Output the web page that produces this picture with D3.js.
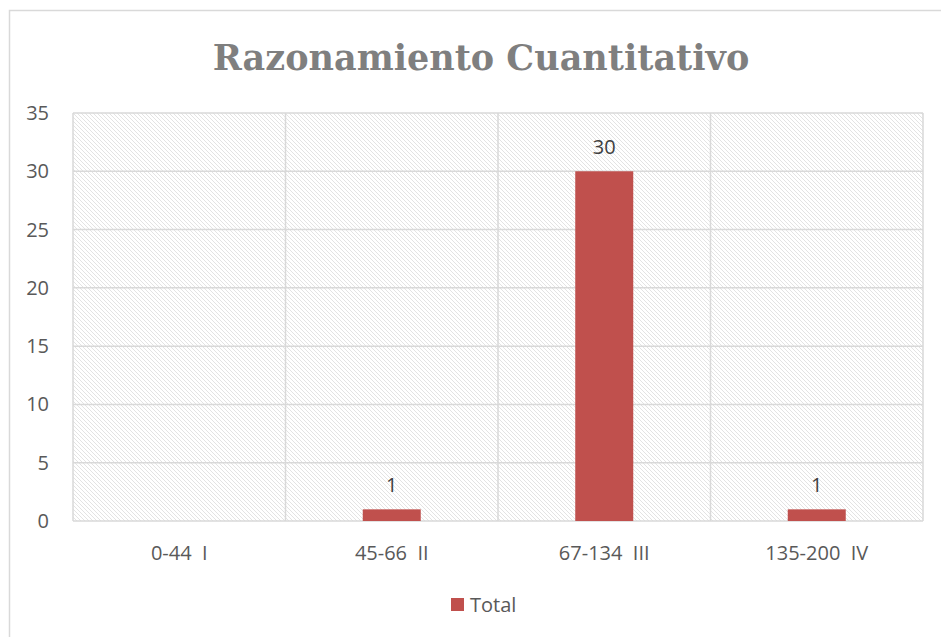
<!DOCTYPE html>
<html>
<head>
<meta charset="utf-8">
<script src="https://cdn.jsdelivr.net/npm/d3@7"></script>
<style>
  body { margin: 0; background: #fff; }
  svg text { white-space: pre; }
</style>
</head>
<body>
<svg width="941" height="637"></svg>
<script>
// chart data
const categories = ["0-44  I", "45-66  II", "67-134  III", "135-200  IV"]
const totals = [0, 1, 30, 1]
const yTicks = [0, 5, 10, 15, 20, 25, 30, 35]
const seriesName = "Total"
const title = "Razonamiento Cuantitativo"

const svg = d3.select('svg'),
    width = 941,
    height = 637

const margin = { left: 73, right: 18, top: 113, bottom: 116 }
const plotW = width - margin.left - margin.right,
    plotH = height - margin.top - margin.bottom

const barColor = "#c0504d",
    gridColor = "#d9d9d9",
    textColor = "#595959",
    font = "'Open Sans', sans-serif"

// outer chart border
svg.append("rect")
    .attr("x", 9.5).attr("y", 10.5)
    .attr("width", 960).attr("height", 660)
    .attr("fill", "#fff")
    .attr("stroke", "#d9d9d9")
    .attr("stroke-width", 1.5)

// hatch pattern for plot background
const defs = svg.append("defs")
const pat = defs.append("pattern")
    .attr("id", "hatch")
    .attr("patternUnits", "userSpaceOnUse")
    .attr("width", 4).attr("height", 4)
pat.append("path")
    .attr("d", "M-1,-1 L5,5 M-1,3 L1,5 M3,-1 L5,1")
    .attr("stroke", "#dcdcdc")
    .attr("stroke-width", 0.8)

const x = d3.scaleBand()
    .domain(categories)
    .range([0, plotW])
    .paddingInner(0)
const y = d3.scaleLinear()
    .domain([0, 35])
    .range([plotH, 0])

const g = svg.append("g")
    .attr("transform", `translate(${margin.left},${margin.top})`)

g.append("rect")
    .attr("width", plotW).attr("height", plotH)
    .attr("fill", "url(#hatch)")

// horizontal gridlines
g.append("g").selectAll("line")
    .data(yTicks)
    .enter().append("line")
    .attr("x1", 0).attr("x2", plotW)
    .attr("y1", d => y(d)).attr("y2", d => y(d))
    .attr("stroke", gridColor)
    .attr("stroke-width", 1.5)

// vertical gridlines at category boundaries
const bounds = categories.map(c => x(c)).concat([plotW])
g.append("g").selectAll("line")
    .data(bounds)
    .enter().append("line")
    .attr("x1", d => d).attr("x2", d => d)
    .attr("y1", 0).attr("y2", plotH)
    .attr("stroke", gridColor)
    .attr("stroke-width", 1.5)

// bars
const barW = 58
g.append("g").selectAll("rect")
    .data(totals)
    .enter().append("rect")
    .attr("x", (d, i) => x(categories[i]) + x.bandwidth() / 2 - barW / 2)
    .attr("y", d => y(d))
    .attr("width", barW)
    .attr("height", d => plotH - y(d))
    .attr("fill", barColor)

// data labels (only non-zero values are labelled)
g.append("g").selectAll("text")
    .data(totals.map((v, i) => ({ v, i })).filter(d => d.v > 0))
    .enter().append("text")
    .attr("x", d => x(categories[d.i]) + x.bandwidth() / 2)
    .attr("y", d => y(d.v) - 17)
    .attr("text-anchor", "middle")
    .attr("font-family", font)
    .attr("font-size", 20)
    .attr("fill", "#404040")
    .text(d => d.v)

// y axis labels
g.append("g").selectAll("text")
    .data(yTicks)
    .enter().append("text")
    .attr("x", -24)
    .attr("y", d => y(d) + 7)
    .attr("text-anchor", "end")
    .attr("font-family", font)
    .attr("font-size", 20)
    .attr("fill", textColor)
    .text(d => d)

// x axis labels
g.append("g").selectAll("text")
    .data(categories)
    .enter().append("text")
    .attr("x", d => x(d) + x.bandwidth() / 2)
    .attr("y", plotH + 39)
    .attr("text-anchor", "middle")
    .attr("font-family", font)
    .attr("font-size", 20)
    .attr("fill", textColor)
    .text(d => d)

// title
svg.append("text")
    .attr("x", 481)
    .attr("y", 70)
    .attr("text-anchor", "middle")
    .attr("font-family", "'DejaVu Serif', serif")
    .attr("font-weight", "bold")
    .attr("font-size", 35)
    .attr("fill", "#7f7f7f")
    .text(title)

// legend
svg.append("rect")
    .attr("x", 451).attr("y", 598)
    .attr("width", 13).attr("height", 13)
    .attr("fill", barColor)
svg.append("text")
    .attr("x", 470).attr("y", 612)
    .attr("font-family", font)
    .attr("font-size", 20)
    .attr("fill", textColor)
    .text(seriesName)
</script>
</body>
</html>
